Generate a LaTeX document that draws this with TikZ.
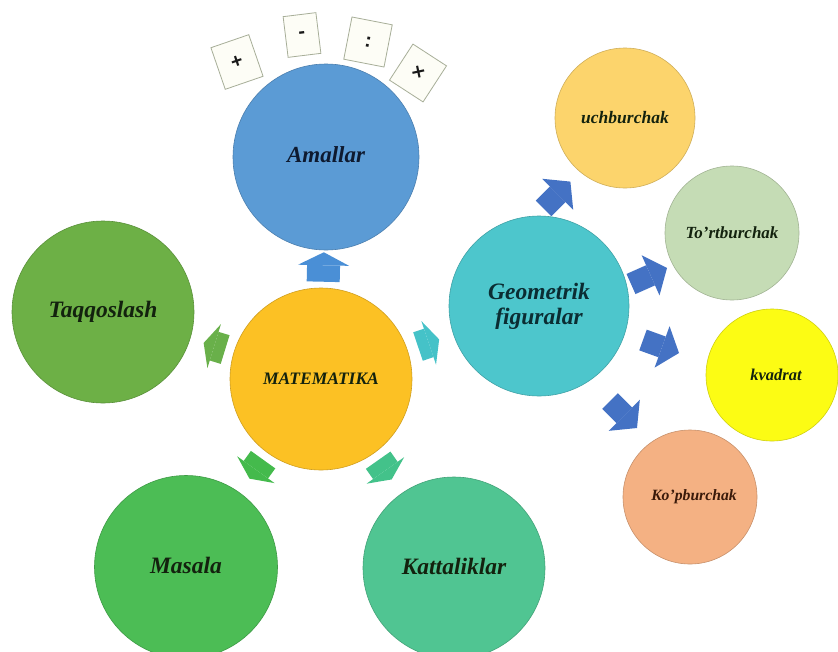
\documentclass[tikz,border=0pt]{standalone}
\usepackage{fontspec}
\setmainfont{Liberation Serif}
\newfontfamily\opfont{Liberation Sans}
\usetikzlibrary{arrows.meta}
\definecolor{cAm}{HTML}{5B9BD5}
\definecolor{cMat}{HTML}{FCC124}
\definecolor{cTaq}{HTML}{6DB046}
\definecolor{cMas}{HTML}{4CBD55}
\definecolor{cKat}{HTML}{50C592}
\definecolor{cGeo}{HTML}{4DC6CC}
\definecolor{cUch}{HTML}{FCD46C}
\definecolor{cTor}{HTML}{C5DCB5}
\definecolor{cKv}{HTML}{FCFC14}
\definecolor{cKop}{HTML}{F4B183}
\definecolor{aUp}{HTML}{4A8FD6}
\definecolor{aLeft}{HTML}{69B04A}
\definecolor{aRight}{HTML}{45C2C8}
\definecolor{aDL}{HTML}{44BA4C}
\definecolor{aDR}{HTML}{43C28A}
\definecolor{aBlue}{HTML}{4472C4}
\definecolor{txt}{HTML}{13220E}
\definecolor{txtBlue}{HTML}{0E1A30}
\definecolor{txtTeal}{HTML}{0B2D33}
\definecolor{txtBrown}{HTML}{3A1A0A}
\definecolor{boxline}{HTML}{A7AE98}
\definecolor{boxfill}{HTML}{FDFDF6}
\tikzset{
  bubble/.style={circle, fill=#1, draw=#1!82!black, line width=0.6pt, inner sep=0pt, text=txt, align=center},
  bigfont/.style={font=\bfseries\itshape\fontsize{23.5}{25}\selectfont},
  smallfont/.style={font=\bfseries\itshape\fontsize{#1}{#1}\selectfont},
  opbox/.style={draw=boxline, fill=boxfill, line width=0.8pt, minimum width=40pt, minimum height=44pt, inner sep=0pt, text=black!90, font=\opfont\bfseries\fontsize{20}{20}\selectfont},
  blockarrow/.style n args={5}{draw=#1, line width=#2, -{Triangle[width=#3,length=#4,line width=0pt,fill=#1]}, line cap=butt},
}
\begin{document}
\begin{tikzpicture}[x=1pt,y=-1pt]
\useasboundingbox (0,0) rectangle (838,651);
\fill[white] (0,0) rectangle (838,651);

% main circles
\node[bubble=cAm, minimum size=186pt, text=txtBlue, font=\bfseries\itshape\fontsize{23}{25}\selectfont] (am) at (326,157) {\raisebox{5pt}{Amallar}};
\node[bubble=cMat, minimum size=182pt, font=\bfseries\itshape\fontsize{17.5}{19}\selectfont] (mat) at (321,379) {MATEMATIKA};
\node[bubble=cTaq, minimum size=182pt, bigfont] (taq) at (103,312) {\raisebox{4pt}{Taqqoslash}};
\node[bubble=cMas, minimum size=183pt, bigfont] (mas) at (186,567) {\raisebox{4pt}{Masala}};
\node[bubble=cKat, minimum size=182pt, bigfont] (kat) at (454,568) {\raisebox{4pt}{Kattaliklar}};
\node[bubble=cGeo, minimum size=180pt, bigfont, text=txtTeal] (geo) at (539,306) {Geometrik\\figuralar};

% small circles
\node[bubble=cUch, minimum size=140pt, smallfont=17.5] (uch) at (625,118) {\raisebox{-5pt}{uchburchak}};
\node[bubble=cTor, minimum size=134pt, smallfont=17] (tor) at (732,233) {To’rtburchak};
\node[bubble=cKv, minimum size=132pt, smallfont=16.5] (kv) at (772,375) {\hspace*{8pt}\raisebox{-2pt}{kvadrat}};
\node[bubble=cKop, minimum size=134pt, smallfont=15.7, text=txtBrown] (kop) at (690,497) {\hspace*{8pt}Ko’pburchak};

% operator boxes
\node[opbox, rotate=19] (plus) at (237,62) {+};
\node[opbox, rotate=7, minimum width=33pt, minimum height=41pt] (minus) at (302,35) {-};
\node[opbox, rotate=-11, minimum width=41pt, minimum height=43pt] (colon) at (368,42) {:};
\node[opbox, rotate=-33, minimum width=40pt, minimum height=43pt] (times) at (418,73) {×};

% arrows from the centre
\draw[blockarrow={aUp}{33pt}{51pt}{13pt}{}, shorten <=6pt, shorten >=2pt] (mat) -- (am);
\draw[blockarrow={aLeft}{30pt}{46pt}{11pt}{}, shorten <=9pt, shorten >=14pt] (mat) -- (taq);
\draw[blockarrow={aRight}{30pt}{46pt}{11pt}{}, shorten <=11pt, shorten >=15pt] (mat) -- (geo);
\draw[blockarrow={aDL}{30pt}{46pt}{11pt}{}, shorten <=8pt, shorten >=17pt] (mat) -- (mas);
\draw[blockarrow={aDR}{30pt}{46pt}{11pt}{}, shorten <=8pt, shorten >=17pt] (mat) -- (kat);

% arrows from Geometrik figuralar
\coordinate (g1s) at (543.6,208.4);
\coordinate (g1e) at (570.4,181.6);
\coordinate (g2s) at (631,284);
\coordinate (g2e) at (667,268);
\coordinate (g3s) at (643,340);
\coordinate (g3e) at (679,353);
\coordinate (g4s) at (610,401);
\coordinate (g4e) at (637,428);
\draw[blockarrow={aBlue}{22pt}{44pt}{18pt}{}] (g1s) -- (g1e);
\draw[blockarrow={aBlue}{22pt}{44pt}{18pt}{}] (g2s) -- (g2e);
\draw[blockarrow={aBlue}{22pt}{44pt}{18pt}{}] (g3s) -- (g3e);
\draw[blockarrow={aBlue}{22pt}{44pt}{18pt}{}] (g4s) -- (g4e);
\end{tikzpicture}
\end{document}
